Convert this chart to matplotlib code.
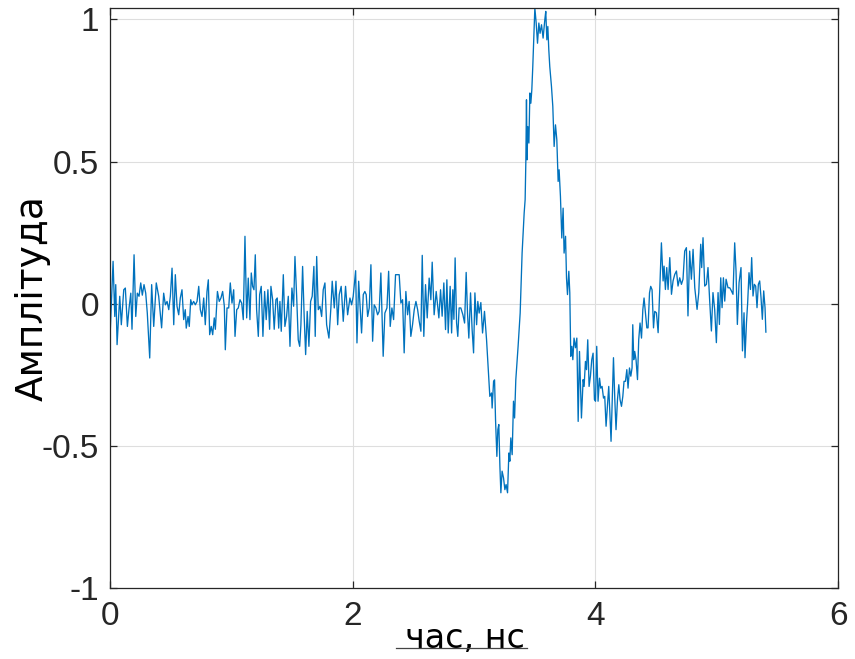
import matplotlib
matplotlib.use("Agg")
import matplotlib.pyplot as plt
from matplotlib.lines import Line2D
import numpy as np

# measured pulse trace (time in ns, normalised amplitude)
time_ns = [
    0.000, 0.025, 0.039, 0.047, 0.058, 0.080, 0.093, 0.113, 0.126, 0.143,
    0.157, 0.171, 0.181, 0.198, 0.212, 0.225, 0.239, 0.253, 0.266, 0.280,
    0.294, 0.307, 0.327, 0.343, 0.360, 0.381, 0.401, 0.425, 0.442, 0.456,
    0.470, 0.484, 0.497, 0.511, 0.525, 0.538, 0.552, 0.566, 0.579, 0.593,
    0.607, 0.620, 0.628, 0.643, 0.653, 0.665, 0.675, 0.689, 0.703, 0.717,
    0.731, 0.744, 0.758, 0.772, 0.785, 0.799, 0.810, 0.821, 0.834, 0.846,
    0.859, 0.868, 0.885, 0.900, 0.914, 0.928, 0.942, 0.950, 0.964, 0.978,
    0.991, 1.005, 1.019, 1.030, 1.044, 1.057, 1.071, 1.085, 1.098, 1.112,
    1.126, 1.139, 1.153, 1.164, 1.175, 1.186, 1.197, 1.208, 1.222, 1.233,
    1.246, 1.260, 1.274, 1.287, 1.301, 1.315, 1.326, 1.340, 1.353, 1.367,
    1.378, 1.390, 1.400, 1.411, 1.428, 1.441, 1.455, 1.469, 1.483, 1.499,
    1.513, 1.524, 1.538, 1.551, 1.563, 1.573, 1.587, 1.600, 1.612, 1.625,
    1.639, 1.653, 1.666, 1.680, 1.691, 1.703, 1.716, 1.730, 1.744, 1.757,
    1.771, 1.785, 1.804, 1.820, 1.831, 1.848, 1.862, 1.876, 1.889, 1.905,
    1.922, 1.941, 1.958, 1.977, 1.991, 2.004, 2.024, 2.035, 2.049, 2.062,
    2.073, 2.087, 2.100, 2.111, 2.123, 2.136, 2.150, 2.164, 2.177, 2.191,
    2.205, 2.218, 2.232, 2.251, 2.265, 2.282, 2.296, 2.309, 2.323, 2.337,
    2.353, 2.370, 2.383, 2.397, 2.411, 2.424, 2.438, 2.452, 2.465, 2.479,
    2.493, 2.507, 2.521, 2.535, 2.548, 2.562, 2.573, 2.586, 2.600, 2.614,
    2.630, 2.644, 2.655, 2.671, 2.688, 2.710, 2.724, 2.737, 2.751, 2.765,
    2.776, 2.787, 2.803, 2.815, 2.825, 2.834, 2.844, 2.856, 2.866, 2.877,
    2.891, 2.908, 2.922, 2.935, 2.946, 2.957, 2.971, 2.984, 2.996, 3.007,
    3.021, 3.031, 3.042, 3.056, 3.070, 3.086, 3.103, 3.116, 3.130, 3.144,
    3.149, 3.161, 3.169, 3.177, 3.188, 3.196, 3.204, 3.213, 3.221, 3.231,
    3.243, 3.254, 3.264, 3.276, 3.287, 3.295, 3.303, 3.314, 3.325, 3.334,
    3.344, 3.363, 3.380, 3.396, 3.413, 3.421, 3.427, 3.432, 3.437, 3.443,
    3.452, 3.460, 3.468, 3.476, 3.484, 3.493, 3.501, 3.512, 3.523, 3.534,
    3.544, 3.556, 3.569, 3.583, 3.591, 3.600, 3.608, 3.616, 3.624, 3.638,
    3.649, 3.660, 3.671, 3.682, 3.693, 3.701, 3.712, 3.723, 3.734, 3.742,
    3.754, 3.762, 3.770, 3.781, 3.789, 3.797, 3.806, 3.814, 3.824, 3.836,
    3.847, 3.858, 3.869, 3.885, 3.899, 3.907, 3.918, 3.927, 3.937, 3.948,
    3.959, 3.970, 3.981, 3.992, 4.001, 4.011, 4.022, 4.034, 4.044, 4.055,
    4.067, 4.077, 4.088, 4.100, 4.110, 4.121, 4.129, 4.141, 4.149, 4.160,
    4.170, 4.182, 4.193, 4.203, 4.215, 4.226, 4.236, 4.248, 4.259, 4.269,
    4.281, 4.292, 4.302, 4.308, 4.316, 4.324, 4.335, 4.347, 4.357, 4.368,
    4.380, 4.391, 4.401, 4.413, 4.424, 4.434, 4.446, 4.456, 4.467, 4.479,
    4.489, 4.503, 4.517, 4.530, 4.544, 4.558, 4.566, 4.577, 4.588, 4.599,
    4.613, 4.627, 4.640, 4.654, 4.668, 4.681, 4.695, 4.709, 4.722, 4.736,
    4.750, 4.763, 4.777, 4.791, 4.805, 4.819, 4.838, 4.852, 4.868, 4.876,
    4.887, 4.901, 4.915, 4.928, 4.942, 4.956, 4.969, 4.983, 4.997, 5.011,
    5.022, 5.033, 5.044, 5.055, 5.066, 5.077, 5.093, 5.107, 5.121, 5.134,
    5.148, 5.159, 5.170, 5.184, 5.200, 5.212, 5.225, 5.233, 5.245, 5.255,
    5.266, 5.278, 5.288, 5.299, 5.310, 5.321, 5.332, 5.343, 5.354, 5.365,
    5.376, 5.387, 5.398, 5.405,
]

amplitude = [
    -0.115, 0.149, -0.045, 0.067, -0.144, 0.026, -0.074, 0.049, 0.055, -0.080,
    -0.015, 0.037, -0.090, 0.172, -0.045, 0.037, 0.026, 0.073, 0.030, 0.067,
    0.037, -0.033, -0.191, 0.067, -0.080, 0.073, 0.026, -0.085, 0.037, -0.004,
    0.008, -0.021, 0.026, 0.125, -0.074, 0.102, -0.009, -0.039, 0.020, 0.049,
    -0.056, -0.021, -0.086, -0.045, -0.080, 0.014, -0.004, 0.008, -0.004, 0.008,
    0.061, -0.021, -0.045, 0.020, -0.074, 0.043, 0.084, -0.109, -0.080, -0.109,
    -0.050, -0.090, 0.043, 0.008, 0.020, 0.043, -0.009, -0.162, -0.015, -0.015,
    0.073, 0.002, 0.049, -0.115, -0.021, -0.015, 0.014, 0.002, -0.056, 0.237,
    -0.050, 0.090, -0.056, 0.108, 0.061, 0.049, 0.172, -0.021, -0.115, 0.032,
    0.061, -0.115, 0.043, -0.056, 0.049, -0.090, 0.061, 0.014, -0.090, 0.014,
    0.020, -0.086, 0.008, -0.097, 0.102, -0.080, -0.045, 0.026, -0.150, 0.055,
    -0.009, 0.166, 0.026, -0.127, -0.150, -0.074, 0.131, -0.045, -0.179, -0.027,
    -0.150, 0.008, 0.026, 0.131, -0.115, 0.166, -0.021, -0.009, -0.045, 0.049,
    0.073, -0.074, -0.121, -0.015, 0.079, -0.015, 0.079, -0.074, 0.032, 0.061,
    -0.062, 0.061, -0.039, 0.020, -0.004, 0.026, 0.116, -0.138, 0.079, -0.021,
    -0.103, 0.032, 0.043, 0.032, -0.045, -0.015, 0.137, -0.132, -0.004, -0.015,
    -0.039, -0.027, 0.108, -0.185, -0.033, -0.015, 0.114, -0.080, -0.015, -0.056,
    0.102, 0.102, 0.102, 0.002, 0.014, -0.173, 0.043, -0.039, 0.008, -0.115,
    -0.074, -0.021, 0.008, -0.021, -0.062, -0.097, 0.170, -0.115, 0.067, -0.050,
    0.090, 0.014, 0.146, -0.039, 0.043, -0.050, 0.049, -0.044, 0.073, -0.091,
    0.084, -0.103, 0.061, -0.103, 0.049, -0.055, 0.161, -0.068, -0.115, -0.015,
    -0.015, -0.039, -0.068, 0.110, -0.033, -0.121, 0.038, -0.091, -0.173, 0.038,
    -0.074, 0.008, -0.033, 0.004, -0.103, -0.027, -0.127, -0.220, -0.326, -0.314,
    -0.367, -0.273, -0.268, -0.408, -0.537, -0.443, -0.425, -0.572, -0.665, -0.589,
    -0.613, -0.654, -0.636, -0.665, -0.525, -0.554, -0.472, -0.531, -0.343, -0.402,
    -0.268, -0.150, -0.033, 0.178, 0.319, 0.366, 0.506, 0.717, 0.506, 0.623,
    0.565, 0.741, 0.705, 0.752, 0.834, 0.940, 1.040, 0.987, 0.916, 0.987,
    0.951, 0.981, 0.934, 0.998, 1.028, 0.928, 0.975, 0.893, 0.834, 0.764,
    0.694, 0.553, 0.629, 0.577, 0.430, 0.471, 0.377, 0.231, 0.336, 0.178,
    0.237, 0.090, 0.032, 0.114, 0.038, -0.185, -0.150, -0.197, -0.121, -0.155,
    -0.121, -0.414, -0.168, -0.402, -0.267, -0.291, -0.203, -0.232, -0.127, -0.291,
    -0.255, -0.197, -0.174, -0.337, -0.343, -0.150, -0.343, -0.262, -0.297, -0.291,
    -0.332, -0.326, -0.431, -0.355, -0.291, -0.408, -0.484, -0.314, -0.190, -0.337,
    -0.443, -0.337, -0.285, -0.337, -0.361, -0.326, -0.273, -0.273, -0.232, -0.297,
    -0.226, -0.255, -0.226, -0.074, -0.197, -0.168, -0.197, -0.267, -0.127, -0.068,
    -0.121, -0.021, 0.020, -0.033, -0.085, -0.085, 0.038, 0.061, 0.049, -0.085,
    -0.027, -0.032, -0.102, 0.045, 0.214, 0.080, 0.132, 0.050, 0.127, 0.050,
    0.162, 0.033, 0.080, 0.103, 0.115, 0.062, 0.091, 0.068, 0.086, 0.185,
    0.197, -0.043, 0.185, 0.086, 0.191, 0.056, -0.020, 0.039, 0.209, 0.127,
    0.232, 0.062, 0.068, 0.127, 0.009, -0.096, 0.039, -0.020, -0.137, 0.039,
    -0.073, 0.091, -0.014, 0.091, 0.009, 0.086, 0.056, 0.056, 0.045, 0.033,
    0.214, 0.115, -0.073, 0.074, 0.127, -0.166, -0.032, -0.190, -0.067, 0.004,
    0.109, 0.050, 0.162, 0.027, 0.068, 0.062, -0.014, 0.068, 0.080, 0.021,
    -0.055, 0.045, -0.014, -0.100,
]

x_ticks = [0, 2, 4, 6]
y_ticks = [-1, -0.5, 0, 0.5, 1]
y_tick_labels = ["-1", "-0.5", "0", "0.5", "1"]

fig = plt.figure(figsize=(8.55, 6.59), dpi=100)
ax = fig.add_axes([0.1287, 0.1077, 0.8515, 0.8802])

ax.plot(time_ns, amplitude, color="#0072BD", linewidth=0.95)

ax.set_xlim(0, 6)
ax.set_ylim(-1, 1.04)
ax.set_xticks(x_ticks)
ax.set_xticklabels([str(v) for v in x_ticks])
ax.set_yticks(y_ticks)
ax.set_yticklabels(y_tick_labels)

ax.grid(True, color="#dedede", linewidth=0.8)
ax.set_axisbelow(True)
for side in ax.spines.values():
    side.set_color("#262626")
    side.set_linewidth(0.9)

ax.tick_params(direction="in", length=5, width=0.9, color="#262626",
               top=True, right=True, labelsize=24, labelcolor="#262626")
ax.tick_params(axis="x", pad=9)
ax.tick_params(axis="y", pad=8)
for lbl in ax.get_xticklabels() + ax.get_yticklabels():
    lbl.set_family("Liberation Sans")

ax.set_ylabel("Амплітуда", fontsize=27, family="DejaVu Sans", color="black")
ax.yaxis.set_label_coords(-0.082, 0.5)
ax.set_xlabel("час, нс", fontsize=24, family="DejaVu Sans", color="black")
ax.xaxis.set_label_coords(0.488, -0.058)

# short rule under the x label
fig.add_artist(Line2D([0.463, 0.616], [0.0167, 0.0167], transform=fig.transFigure,
                      color="#444444", linewidth=0.9))

fig.savefig("out.png", dpi=100)
